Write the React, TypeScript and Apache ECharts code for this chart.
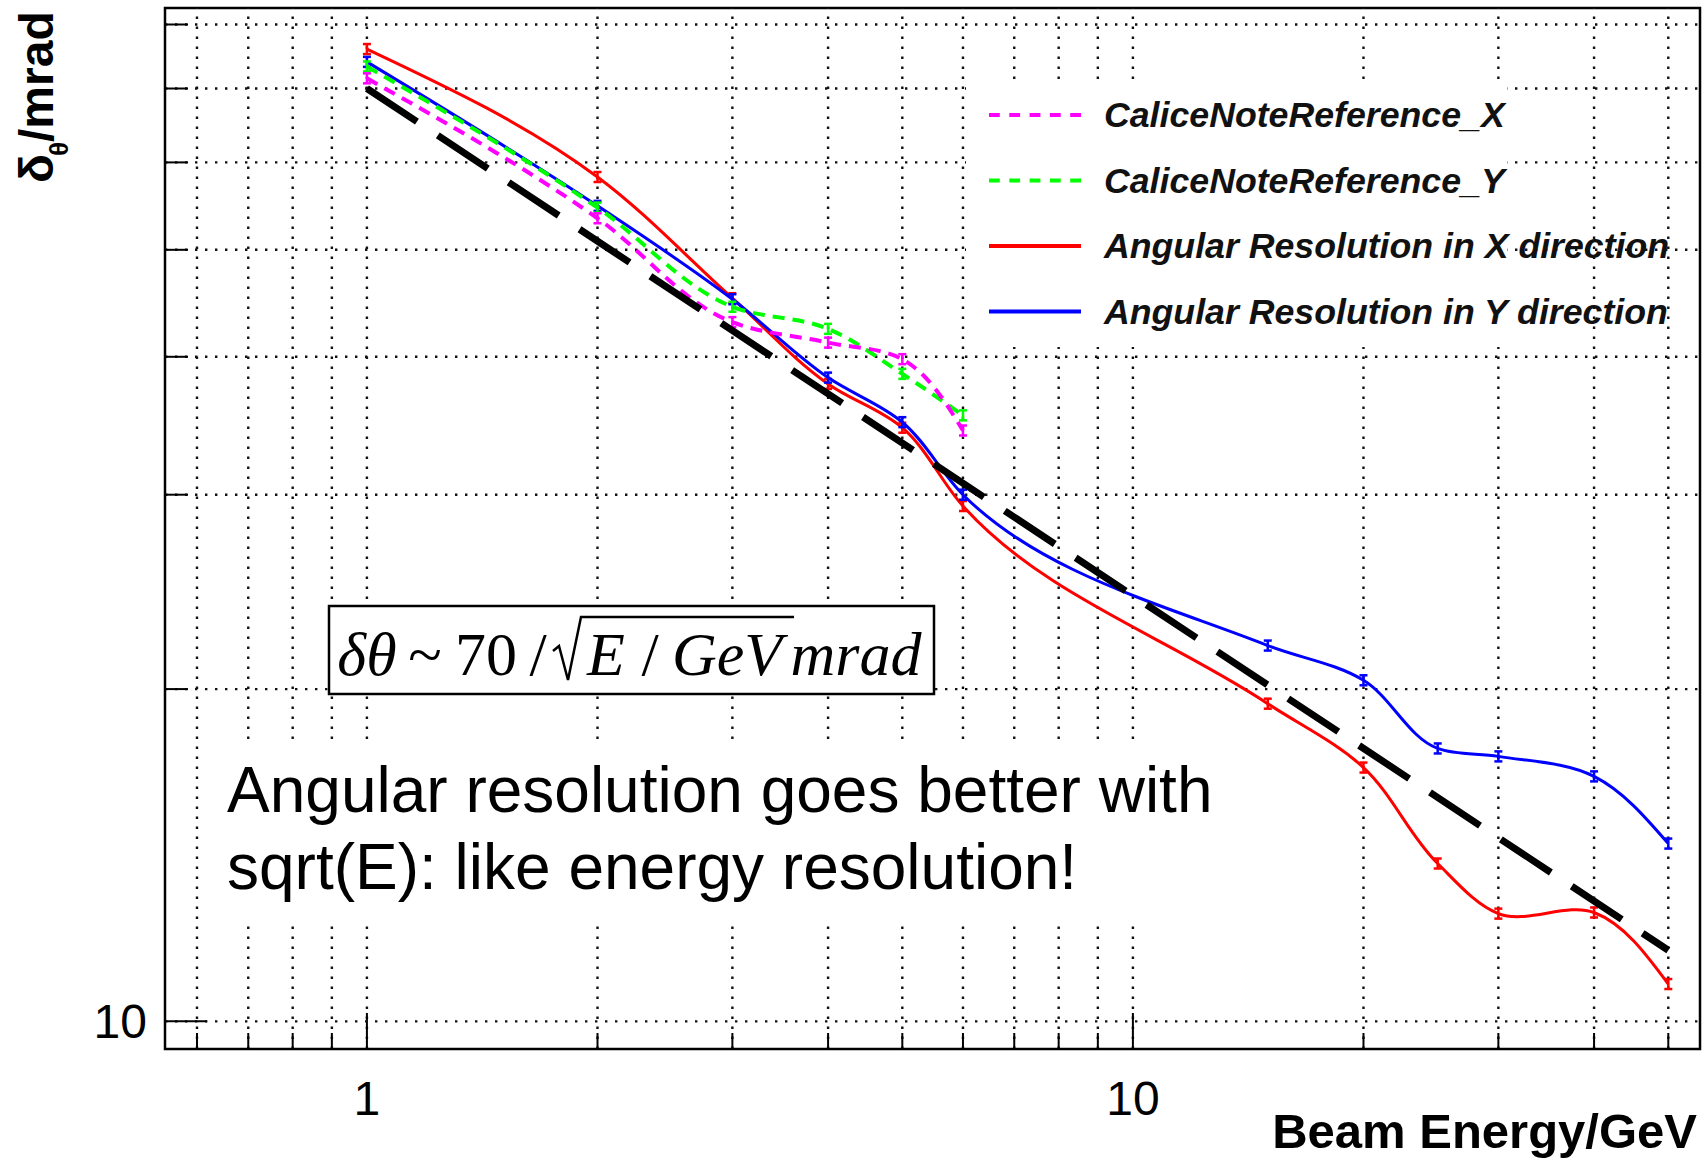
import React, { useEffect, useRef } from 'react';
import * as echarts from 'echarts';

// ---- data ----
const energies = [1, 2, 3, 4, 5, 6, 15, 20, 25, 30, 40, 50];
const resolutionX = [76.0, 58.2, 45.2, 37.8, 34.5, 29.3, 19.4, 16.98, 13.9, 12.52, 12.55, 10.81];
const resolutionY = [74.0, 54.8, 45.1, 38.3, 34.9, 30.0, 21.9, 20.37, 17.67, 17.38, 16.67, 14.49];
const caliceEnergies = [1, 2, 3, 4, 5, 6];
const caliceX = [71.5, 53.4, 43.0, 41.2, 39.8, 34.3];
const caliceY = [73.3, 54.6, 44.4, 42.4, 38.6, 35.4];
const fitEnergies = [1, 50];
const fitValues = [70, 11.6];

const xTickLabels = ['1', '10'];
const yTickLabels = ['10'];
const xGridValues = [0.6, 0.7, 0.8, 0.9, 1, 2, 3, 4, 5, 6, 7, 8, 9, 10, 20, 30, 40, 50];
const xMajorValues = [1, 10];
const yGridValues = [10, 20, 30, 40, 50, 60, 70, 80];
const yMajorValues = [10];

const X_MIN = 0.545;
const X_MAX = 55;
const Y_MIN = 9.44;
const Y_MAX = 82.8;

const NAMES = {
  cx: 'CaliceNoteReference_X',
  cy: 'CaliceNoteReference_Y',
  rx: 'Angular Resolution in X direction',
  ry: 'Angular Resolution in Y direction',
};

const pairs = (xs: number[], ys: number[]) => xs.map((x, i) => [x, ys[i]]);

// smooth parametric cubic through projected points (Bessel tangents, natural ends)
function splinePath(P: number[][]): string {
  const n = P.length;
  if (n < 2) return '';
  const d: number[] = [];
  const u: number[][] = [];
  for (let i = 0; i < n - 1; i++) {
    const dx = P[i + 1][0] - P[i][0];
    const dy = P[i + 1][1] - P[i][1];
    const len = Math.hypot(dx, dy) || 1;
    d.push(len);
    u.push([dx / len, dy / len]);
  }
  const T: (number[] | null)[] = new Array(n).fill(null);
  for (let i = 1; i < n - 1; i++) {
    const s = d[i - 1] + d[i];
    T[i] = [(d[i] * u[i - 1][0] + d[i - 1] * u[i][0]) / s, (d[i] * u[i - 1][1] + d[i - 1] * u[i][1]) / s];
  }
  let path = `M${P[0][0]},${P[0][1]}`;
  for (let i = 0; i < n - 1; i++) {
    const dx = P[i + 1][0] - P[i][0];
    const dy = P[i + 1][1] - P[i][1];
    let m0: number[] | null = T[i] ? [T[i]![0] * d[i], T[i]![1] * d[i]] : null;
    let m1: number[] | null = T[i + 1] ? [T[i + 1]![0] * d[i], T[i + 1]![1] * d[i]] : null;
    if (!m0 && !m1) {
      m0 = [dx, dy];
      m1 = [dx, dy];
    } else if (!m0) {
      m0 = [(3 * dx - m1![0]) / 2, (3 * dy - m1![1]) / 2];
    } else if (!m1) {
      m1 = [(3 * dx - m0[0]) / 2, (3 * dy - m0[1]) / 2];
    }
    const c1 = [P[i][0] + m0![0] / 3, P[i][1] + m0![1] / 3];
    const c2 = [P[i + 1][0] - m1![0] / 3, P[i + 1][1] - m1![1] / 3];
    path += ` C${c1[0]},${c1[1]} ${c2[0]},${c2[1]} ${P[i + 1][0]},${P[i + 1][1]}`;
  }
  return path;
}

const curveSeries = (
  name: string,
  xs: number[],
  ys: number[],
  color: string,
  width: number,
  dash: number[] | null,
  z: number
) => ({
  type: 'custom',
  name,
  z,
  silent: true,
  itemStyle: { color },
  data: pairs(xs, ys),
  renderItem: (params: any, api: any) => {
    const i = params.dataIndex;
    const p = api.coord([api.value(0), api.value(1)]);
    const children: any[] = [];
    if (i === 0) {
      const pts = xs.map((x, j) => api.coord([x, ys[j]]));
      children.push({
        type: 'path',
        shape: { pathData: splinePath(pts) },
        style: { fill: 'none', stroke: color, lineWidth: width, lineDash: dash || undefined },
      });
    }
    const h = 5;
    const w = 4;
    const st = { stroke: color, lineWidth: 2.5, fill: 'none' };
    children.push(
      { type: 'line', shape: { x1: p[0], y1: p[1] - h, x2: p[0], y2: p[1] + h }, style: st },
      { type: 'line', shape: { x1: p[0] - w, y1: p[1] - h, x2: p[0] + w, y2: p[1] - h }, style: st },
      { type: 'line', shape: { x1: p[0] - w, y1: p[1] + h, x2: p[0] + w, y2: p[1] + h }, style: st }
    );
    return { type: 'group', children };
  },
});

const gridDot = { stroke: '#111', lineWidth: 2.4, lineDash: [2.4, 7.6] };
const tickStyle = { stroke: '#000', lineWidth: 2 };

const txt = (text: string, x: number, y: number, font: string, align: string, valign: string) => ({
  type: 'text',
  x,
  y,
  z: 20,
  silent: true,
  style: {
    text,
    font,
    fill: '#000',
    align,
    textAlign: align,
    verticalAlign: valign,
    textVerticalAlign: valign,
  },
});

const SOLID_ICON = 'path://M0,0H92V4H0Z';
const DASH_ICON =
  'path://M0,0h10.8v4h-10.8Z M20.3,0h10.8v4h-10.8Z M40.6,0h10.8v4h-10.8Z M60.9,0h10.8v4h-10.8Z M81.2,0h10.8v4h-10.8Z';

export default function App() {
  const ref = useRef<HTMLDivElement>(null);

  useEffect(() => {
    if (!ref.current) return;
    const chart = echarts.init(ref.current, null, { renderer: 'svg' });

    const serif = '"Liberation Serif", "Times New Roman", serif';
    const sans = '"Liberation Sans", Arial, sans-serif';
    const fFormula = (italic: boolean) => `${italic ? 'italic ' : ''}62px ${serif}`;
    const formulaY = 654;

    const option: any = {
      animation: false,
      backgroundColor: '#ffffff',
      grid: {
        left: 165,
        right: 6,
        top: 8,
        bottom: 110,
        show: true,
        borderColor: '#000',
        borderWidth: 2.5,
        backgroundColor: 'transparent',
      },
      xAxis: {
        type: 'log',
        logBase: 10,
        min: X_MIN,
        max: X_MAX,
        axisLine: { show: false },
        axisTick: { show: false },
        splitLine: { show: false },
        minorTick: { show: false },
        axisLabel: {
          show: true,
          margin: 49,
          verticalAlign: 'middle',
          fontSize: 48,
          fontFamily: sans,
          color: '#000',
          showMinLabel: false,
          showMaxLabel: false,
          formatter: (v: number) => {
            const s = String(Math.round(v * 1000) / 1000);
            return xTickLabels.includes(s) ? s : '';
          },
        },
      },
      yAxis: {
        type: 'log',
        logBase: 10,
        min: Y_MIN,
        max: Y_MAX,
        axisLine: { show: false },
        axisTick: { show: false },
        splitLine: { show: false },
        minorTick: { show: false },
        axisLabel: {
          show: true,
          margin: 18,
          fontSize: 48,
          fontFamily: sans,
          color: '#000',
          showMinLabel: false,
          showMaxLabel: false,
          formatter: (v: number) => {
            const s = String(Math.round(v * 1000) / 1000);
            return yTickLabels.includes(s) ? s : '';
          },
        },
      },
      legend: {
        data: [
          { name: NAMES.cx, icon: DASH_ICON },
          { name: NAMES.cy, icon: DASH_ICON },
          { name: NAMES.rx, icon: SOLID_ICON },
          { name: NAMES.ry, icon: SOLID_ICON },
        ],
        orient: 'vertical',
        left: 989,
        top: 95,
        itemWidth: 92,
        itemHeight: 4,
        itemGap: 25.5,
        padding: 0,
        selectedMode: false,
        textStyle: {
          fontFamily: sans,
          fontSize: 35.7,
          fontWeight: 'bold',
          fontStyle: 'italic',
          color: '#111',
          lineHeight: 40,
          padding: [0, 0, 0, 18],
        },
      },
      graphic: [
        { type: 'rect', z: 3, silent: true, shape: { x: 966, y: 80, width: 541, height: 267 }, style: { fill: '#fff' } },
        { type: 'rect', z: 3, silent: true, shape: { x: 215, y: 745, width: 1010, height: 180 }, style: { fill: '#fff' } },
        {
          type: 'rect',
          z: 3,
          silent: true,
          shape: { x: 329, y: 606, width: 605, height: 88 },
          style: { fill: '#fff', stroke: '#000', lineWidth: 2.5 },
        },
        txt('δθ', 367, formulaY, fFormula(true), 'center', 'middle'),
        txt('~', 425, formulaY, fFormula(false), 'center', 'middle'),
        txt('70', 486, formulaY, fFormula(false), 'center', 'middle'),
        txt('/', 538, formulaY, fFormula(false), 'center', 'middle'),
        txt('E', 606, formulaY, fFormula(true), 'center', 'middle'),
        txt('/', 650, formulaY, fFormula(false), 'center', 'middle'),
        txt('GeV', 727, formulaY, fFormula(true), 'center', 'middle'),
        txt('mrad', 856, formulaY, fFormula(true), 'center', 'middle'),
        {
          type: 'polyline',
          z: 20,
          silent: true,
          shape: { points: [[553, 651], [559, 646], [568, 680], [581, 617], [794, 617]] },
          style: { stroke: '#000', lineWidth: 2.5, fill: 'none' },
        },
        txt('Angular resolution goes better with', 227, 790, `64px ${sans}`, 'left', 'middle'),
        txt('sqrt(E): like energy resolution!', 227, 867, `64px ${sans}`, 'left', 'middle'),
        txt('Beam Energy/GeV', 1697, 1131, `bold 49px ${sans}`, 'right', 'middle'),
        {
          type: 'group',
          x: 36,
          y: 183,
          rotation: Math.PI / 2,
          z: 20,
          children: [
            txt('δ', 0, 0, `bold 48px ${sans}`, 'left', 'middle'),
            txt('θ', 27, 23, `bold 26px ${sans}`, 'left', 'middle'),
            txt('/mrad', 41, 0, `bold 48px ${sans}`, 'left', 'middle'),
          ],
        },
      ],
      series: [
        {
          type: 'custom',
          name: 'vgrid',
          z: 1,
          silent: true,
          data: xGridValues.map((v) => [v, Y_MIN]),
          renderItem: (_p: any, api: any) => {
            const v = api.value(0);
            const b = api.coord([v, Y_MIN]);
            const t = api.coord([v, Y_MAX]);
            const len = xMajorValues.includes(v) ? 36 : 16;
            return {
              type: 'group',
              children: [
                { type: 'line', shape: { x1: b[0], y1: b[1], x2: t[0], y2: t[1] }, style: gridDot },
                { type: 'line', shape: { x1: b[0], y1: b[1], x2: b[0], y2: b[1] - len }, style: tickStyle },
              ],
            };
          },
        },
        {
          type: 'custom',
          name: 'hgrid',
          z: 1,
          silent: true,
          data: yGridValues.map((v) => [X_MIN, v]),
          renderItem: (_p: any, api: any) => {
            const v = api.value(1);
            const l = api.coord([X_MIN, v]);
            const r = api.coord([X_MAX, v]);
            const len = yMajorValues.includes(v) ? 42 : 23;
            return {
              type: 'group',
              children: [
                { type: 'line', shape: { x1: l[0], y1: l[1], x2: r[0], y2: r[1] }, style: gridDot },
                { type: 'line', shape: { x1: l[0], y1: l[1], x2: l[0] + len, y2: l[1] }, style: tickStyle },
              ],
            };
          },
        },
        curveSeries(NAMES.rx, energies, resolutionX, '#ff0000', 3, null, 5),
        curveSeries(NAMES.ry, energies, resolutionY, '#0000ff', 3, null, 6),
        curveSeries(NAMES.cy, caliceEnergies, caliceY, '#00ff00', 4, [12, 8], 7),
        curveSeries(NAMES.cx, caliceEnergies, caliceX, '#ff00ff', 4, [12, 8], 8),
        {
          type: 'line',
          name: 'fit',
          z: 12,
          data: pairs(fitEnergies, fitValues),
          symbol: 'none',
          showSymbol: false,
          color: '#000',
          lineStyle: { color: '#000', width: 7, type: [60, 25] },
        },
      ],
    };

    chart.setOption(option);
    return () => chart.dispose();
  }, []);

  return (
    <div
      ref={ref}
      style={{ position: 'fixed', left: 0, top: 0, width: 1706, height: 1159, background: '#fff' }}
    />
  );
}
